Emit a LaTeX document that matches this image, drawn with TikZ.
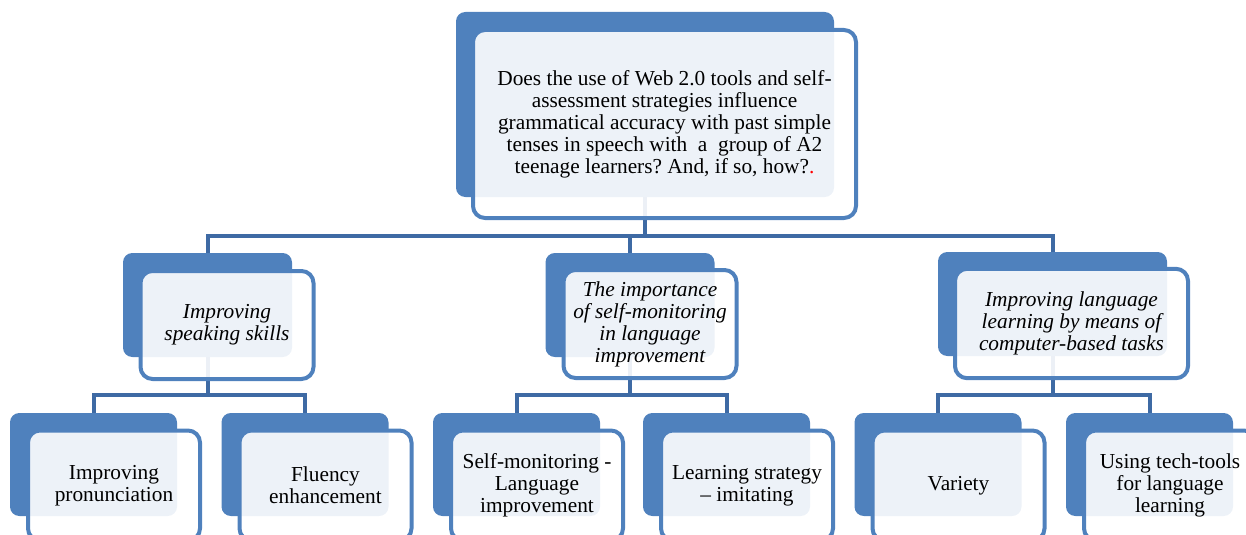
\documentclass[tikz,border=0pt]{standalone}
\usepackage{fontspec}
\setmainfont{Liberation Serif}
\usepackage{xcolor}
\usetikzlibrary{positioning, backgrounds}
\frenchspacing
\definecolor{saBlue}{RGB}{79, 129, 189}
\definecolor{saLink}{RGB}{62, 106, 164}
\tikzset{
    backbox/.style={
        rectangle,
        rounded corners=7pt,
        fill=saBlue,
        inner sep=0pt
    },
    frontbox/.style={
        rectangle,
        rounded corners=9pt,
        draw=saBlue,
        line width=3pt,
        fill=white,
        fill opacity=0.9,
        text opacity=1,
        inner sep=0pt,
        align=center,
        font=\fontsize{16}{16.5}\selectfont
    },
    midfront/.style={
        frontbox,
        font=\fontsize{16}{16.5}\selectfont\itshape
    },
    qback/.style={backbox, minimum width=283.5pt, minimum height=138.75pt},
    qfront/.style={frontbox, minimum width=287.25pt, minimum height=141pt},
    sback/.style={backbox, minimum width=126.75pt, minimum height=78pt},
    sfront/.style={midfront, minimum width=129.75pt, minimum height=81pt},
    wideback/.style={backbox, minimum width=171.75pt, minimum height=78pt},
    widefront/.style={midfront, minimum width=174.75pt, minimum height=82pt},
    leafback/.style={backbox, minimum width=125.25pt, minimum height=77.25pt},
    leaffront/.style={frontbox, minimum width=129pt, minimum height=82.5pt},
    link/.style={
        draw=saLink,
        line width=3pt
    }
}

\begin{document}
\begin{tikzpicture}[x=0.75pt, y=-0.75pt]
  \useasboundingbox (0,0) rectangle (1246,535);

  % Research question
  \node[qback] (qb) at (645,104.5) {};
  \node[qfront] (q) at (664.5,124) {Does the use of Web 2.0 tools and self-\\assessment strategies influence\\grammatical accuracy with past simple\\tenses in speech with\ \ a\ \ group of A2\\teenage learners? And, if so, how?{\color{red}.}};

  % Sub-questions
  \node[sback] (s1b) at (207.5,305) {};
  \node[sfront] (s1) at (227,325) {Improving\\speaking skills};
  \node[sback] (s2b) at (630,305) {};
  \node[sfront] (s2) at (650,324) {The importance\\of self-monitoring\\in language\\improvement};
  \node[wideback] (s3b) at (1052.5,304) {};
  \node[widefront] (s3) at (1071.5,323.5) {Improving language\\learning by means of\\computer-based tasks};

  % Categories
  \node[leafback] (l1b) at (93.5,464.5) {};
  \node[leaffront] (l1) at (114,485.5) {Improving\\pronunciation};
  \node[leafback] (l2b) at (305,464.5) {};
  \node[leaffront] (l2) at (325.5,485.5) {Fluency\\enhancement};
  \node[leafback] (l3b) at (516.5,464.5) {};
  \node[leaffront] (l3) at (537,485.5) {Self-monitoring -\\Language\\improvement};
  \node[leafback] (l4b) at (726.5,464.5) {};
  \node[leaffront] (l4) at (747,485.5) {Learning strategy\\-- imitating};
  \node[leafback] (l5b) at (938,464.5) {};
  \node[leaffront] (l5) at (958.5,485.5) {Variety};
  \node[leafback] (l6b) at (1149.5,464.5) {};
  \node[leaffront] (l6) at (1170,485.5) {Using tech-tools\\for language\\learning};

  % Connectors
  \coordinate (j0) at (645,236);
  \coordinate (j1) at (207.5,395);
  \coordinate (j2) at (630,395);
  \coordinate (j3) at (1052.5,395);
  \begin{scope}[on background layer]
    \draw[link] (qb) -- (j0);
    \draw[link] (j0) -| (s1b);
    \draw[link] (j0) -| (s2b);
    \draw[link] (j0) -| (s3b);
    \draw[link] (s1b) -- (j1);
    \draw[link] (j1) -| (l1b);
    \draw[link] (j1) -| (l2b);
    \draw[link] (s2b) -- (j2);
    \draw[link] (j2) -| (l3b);
    \draw[link] (j2) -| (l4b);
    \draw[link] (s3b) -- (j3);
    \draw[link] (j3) -| (l5b);
    \draw[link] (j3) -| (l6b);
  \end{scope}

\end{tikzpicture}
\end{document}
